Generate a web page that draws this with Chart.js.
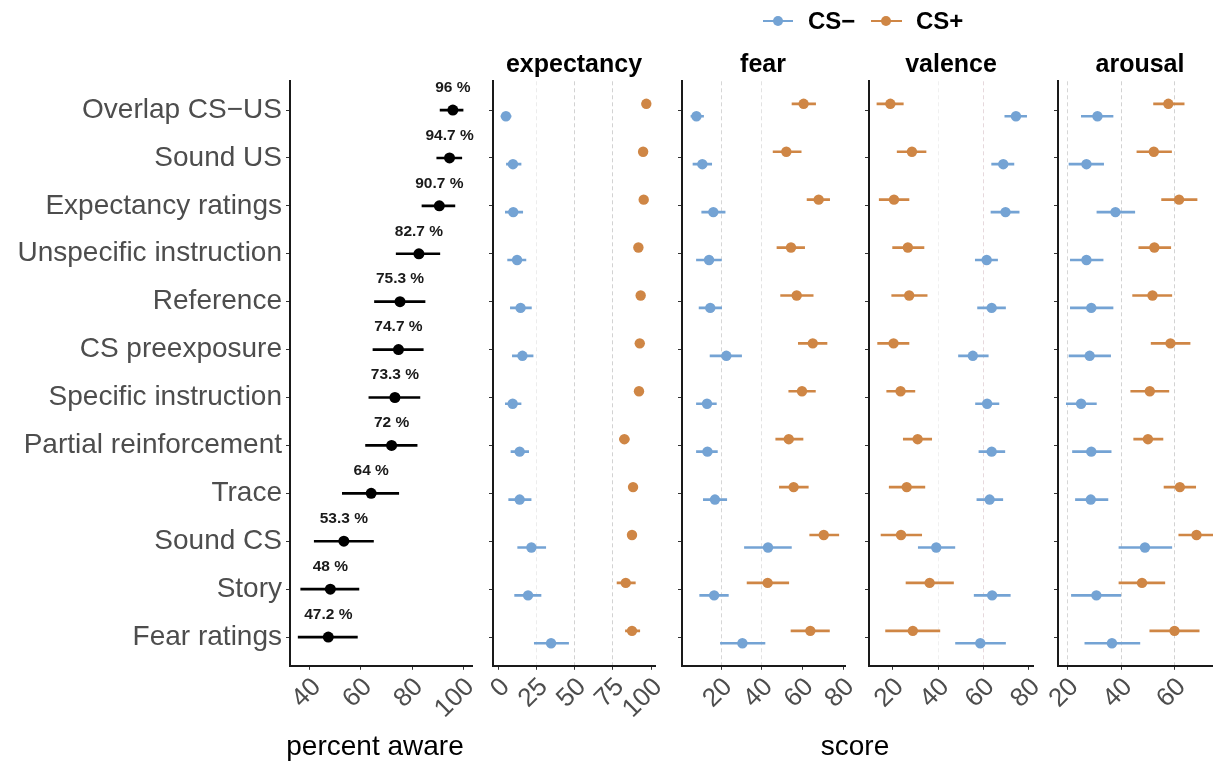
<!DOCTYPE html>
<html>
<head>
<meta charset="utf-8">
<script src="https://cdn.jsdelivr.net/npm/chart.js@4.4.1/dist/chart.umd.min.js"></script>
<style>
  html, body { margin: 0; padding: 0; background: #fff; overflow: hidden; }
  #wrap { position: relative; width: 1213px; height: 763px; overflow: hidden;
          font-family: "Liberation Sans", Arial, sans-serif; }
  canvas { position: absolute; top: 0; }
  .txt { position: absolute; white-space: nowrap; transform: translate(-50%, -50%); line-height: 1; color: #000; }
  .facet { font-size: 25px; font-weight: bold; }
  .axis-title { font-size: 28px; }
  .key-line { position: absolute; height: 2px; }
  .key-dot { position: absolute; width: 10px; height: 10px; border-radius: 50%; transform: translate(-50%, -50%); }
  .key-text { position: absolute; font-size: 24px; font-weight: bold; transform: translateY(-50%); line-height: 1; }
</style>
</head>
<body>
<div id="wrap">
  <canvas id="aware" width="502" height="763" style="left:0px"></canvas>
  <canvas id="expectancy"></canvas>
  <canvas id="fear"></canvas>
  <canvas id="valence"></canvas>
  <canvas id="arousal"></canvas>

  <div class="key-line" style="left:763px; top:20px; width:30px; background:#74a3d4"></div>
  <div class="key-dot" style="left:778px; top:21px; background:#74a3d4"></div>
  <div class="key-text" style="left:808px; top:21px">CS−</div>
  <div class="key-line" style="left:871px; top:20px; width:31px; background:#cf8645"></div>
  <div class="key-dot" style="left:886px; top:21px; background:#cf8645"></div>
  <div class="key-text" style="left:916px; top:21px">CS+</div>

  <div class="txt facet" style="left:574px; top:63px">expectancy</div>
  <div class="txt facet" style="left:763px; top:63px">fear</div>
  <div class="txt facet" style="left:951px; top:63px">valence</div>
  <div class="txt facet" style="left:1140px; top:63px">arousal</div>

  <div class="txt axis-title" style="left:375px; top:746px">percent aware</div>
  <div class="txt axis-title" style="left:855px; top:746px">score</div>
</div>

<script>
// ---- data ---------------------------------------------------------------
const categories = [
  'Overlap CS−US', 'Sound US', 'Expectancy ratings', 'Unspecific instruction',
  'Reference', 'CS preexposure', 'Specific instruction', 'Partial reinforcement',
  'Trace', 'Sound CS', 'Story', 'Fear ratings'
];

// share of aware participants per paradigm, with confidence limits
const awarePct  = [96, 94.7, 90.7, 82.7, 75.3, 74.7, 73.3, 72, 64, 53.3, 48, 47.2];
const awareLow  = [91.0, 89.7, 83.9, 73.8, 65.3, 64.7, 63.1, 61.8, 52.7, 41.7, 36.4, 35.4];
const awareHigh = [100, 99.5, 96.8, 90.9, 85.1, 84.4, 83.1, 82.0, 74.8, 64.9, 59.2, 58.6];
const awareTicks = [40, 60, 80, 100];

// expectancy ratings
const expMinus     = [4.8, 9.4, 9.6, 12.1, 14.4, 15.6, 9.2, 13.8, 13.8, 21.5, 19.3, 34.4];
const expMinusLow  = [1.6, 5.1, 4.4, 5.9, 7.7, 9.0, 4.4, 8.1, 6.6, 12.5, 10.5, 23.4];
const expMinusHigh = [8.1, 14.7, 15.8, 17.9, 21.5, 22.6, 14.7, 19.7, 21.3, 30.9, 27.8, 45.9];
const expPlus      = [96.9, 94.8, 95.2, 91.7, 93.2, 92.6, 92.1, 82.5, 88.2, 87.5, 83.4, 87.5];
const expPlusLow   = [94.9, 92.6, 93.0, 89.5, 91.0, 90.3, 89.8, 79.4, 85.6, 84.8, 77.7, 83.2];
const expPlusHigh  = [98.9, 97.0, 97.4, 93.9, 95.4, 94.9, 94.4, 85.6, 90.8, 90.2, 89.7, 92.6];
const expTicks = [0, 25, 50, 75, 100];

// fear ratings
const fearMinus     = [7.9, 10.8, 16.2, 14.1, 14.7, 22.6, 13.1, 13.3, 17.0, 43.1, 16.6, 30.5];
const fearMinusLow  = [5.2, 6.2, 10.5, 7.9, 9.2, 14.6, 7.9, 7.9, 11.3, 31.5, 9.5, 19.7];
const fearMinusHigh = [11.4, 15.4, 22.0, 20.2, 20.3, 30.1, 17.7, 18.2, 22.8, 54.6, 23.6, 41.6];
const fearPlus      = [60.6, 52.1, 68.0, 54.4, 57.2, 65.1, 59.8, 53.3, 55.7, 70.5, 42.9, 63.9];
const fearPlusLow   = [54.9, 45.6, 62.3, 47.5, 49.3, 58.0, 53.3, 46.9, 48.7, 63.6, 32.8, 54.4];
const fearPlusHigh  = [66.5, 59.4, 73.4, 61.1, 65.3, 72.1, 66.4, 60.3, 62.9, 77.9, 53.3, 73.3];
const fearTicks = [20, 40, 60, 80];

// valence ratings
const valMinus     = [74.3, 68.7, 69.7, 61.4, 63.6, 55.3, 61.6, 63.6, 62.7, 39.2, 63.8, 58.6];
const valMinusLow  = [69.4, 63.6, 63.3, 56.4, 57.4, 49.0, 56.5, 58.0, 57.1, 31.3, 55.9, 47.7];
const valMinusHigh = [79.0, 73.4, 75.7, 66.2, 69.7, 62.1, 66.8, 69.4, 68.5, 47.4, 71.8, 69.7];
const valPlus      = [19.0, 28.5, 20.6, 26.7, 27.3, 20.4, 23.5, 31.0, 26.2, 23.7, 36.3, 28.9];
const valPlusLow   = [13.1, 22.0, 14.1, 20.0, 19.6, 13.4, 17.4, 24.7, 18.5, 14.9, 25.9, 16.9];
const valPlusHigh  = [24.7, 34.7, 27.2, 33.8, 35.2, 27.2, 29.8, 37.2, 34.2, 32.8, 46.8, 40.8];
const valTicks = [20, 40, 60, 80];

// arousal ratings
const arMinus     = [31.2, 27.1, 37.9, 27.1, 28.9, 28.3, 25.1, 28.9, 28.7, 48.9, 30.8, 36.6];
const arMinusLow  = [25.2, 20.6, 31.0, 21.1, 21.1, 20.6, 19.6, 21.9, 23.0, 39.2, 21.5, 26.5];
const arMinusHigh = [37.0, 33.5, 45.1, 33.3, 37.0, 36.1, 30.8, 36.3, 35.1, 58.9, 39.9, 47.0];
const arPlus      = [57.6, 52.2, 61.6, 52.4, 51.7, 58.4, 50.7, 50.0, 61.9, 68.1, 47.8, 59.9];
const arPlusLow   = [52.1, 45.9, 55.1, 46.6, 44.3, 51.2, 43.6, 44.7, 56.0, 61.5, 39.2, 50.7];
const arPlusHigh  = [63.5, 58.8, 68.3, 58.5, 58.9, 65.7, 57.8, 55.6, 67.8, 74.7, 56.3, 69.1];
const arTicks = [20, 40, 60];

// ---- shared styling -----------------------------------------------------
const BLUE = '#74a3d4';
const ORANGE = '#cf8645';
const FONT = '"Liberation Sans", Arial, sans-serif';
const TEXT_GREY = '#4d4d4d';
const DODGE = 0.13;          // vertical offset between CS+ and CS− rows
const AREA_TOP = 81.3;       // top of every panel
const XAXIS_H = 97.2;        // room under every panel for the rotated ticks
const YAXIS_W = 40;          // room left of a facet for its tick marks

function yScale(showLabels) {
  return {
    type: 'linear', position: 'left', reverse: true,
    min: -0.6, max: categories.length - 0.4,
    offset: false,
    afterBuildTicks: s => { s.ticks = categories.map((_, i) => ({ value: i })); },
    afterFit: s => { if (!showLabels) s.width = YAXIS_W; },
    ticks: {
      autoSkip: false, padding: 4, color: TEXT_GREY,
      font: { family: FONT, size: 28 },
      callback: v => showLabels ? categories[v] : ''
    },
    grid: { offset: false, drawOnChartArea: false, drawTicks: true, tickLength: 4,
            tickColor: '#333', tickWidth: 1 },
    border: { display: true, color: '#1a1a1a', width: 2 }
  };
}

function xScale(min, max, tickValues, guides) {
  return {
    type: 'linear', position: 'bottom', min, max, beginAtZero: false,
    afterBuildTicks: s => { s.ticks = tickValues.map(v => ({ value: v })); },
    afterFit: s => { s.height = XAXIS_H; },
    ticks: {
      autoSkip: false, minRotation: 45, maxRotation: 45, padding: 2, labelOffset: 7,
      color: TEXT_GREY, font: { family: FONT, size: 26 },
      callback: v => String(v)
    },
    grid: {
      drawOnChartArea: true, drawTicks: true, tickLength: 4, tickColor: '#333', tickWidth: 1,
      lineWidth: 1,
      color: ctx => {
        const g = ctx.tick && guides.find(d => d.value === ctx.tick.value);
        return g ? g.color : 'rgba(0,0,0,0)';
      }
    },
    border: { display: true, color: '#1a1a1a', width: 2, dash: [4, 3] }
  };
}

function errorBars(low, high, offset, color) {
  return {
    type: 'bar', indexAxis: 'y', grouped: false, order: 2,
    data: low.map((lo, i) => ({ x: [lo, high[i]], y: i + offset })),
    backgroundColor: color, borderWidth: 0, barThickness: 2
  };
}

function points(values, offset, color, radius) {
  return {
    type: 'scatter', order: 1, showLine: false,
    data: values.map((v, i) => ({ x: v, y: i + offset })),
    backgroundColor: color, borderWidth: 0, pointRadius: radius, pointHoverRadius: radius
  };
}

// percentage text above each dot of the awareness panel
const percentLabels = {
  id: 'percentLabels',
  afterDatasetsDraw(chart) {
    const meta = chart.getDatasetMeta(1);
    const ctx = chart.ctx;
    ctx.save();
    ctx.font = 'bold 15.5px ' + FONT;
    ctx.fillStyle = '#1a1a1a';
    ctx.textAlign = 'center';
    ctx.textBaseline = 'middle';
    meta.data.forEach((pt, i) => ctx.fillText(awarePct[i] + ' %', pt.x, pt.y - 22.5));
    ctx.restore();
  }
};

const baseOptions = (padLeft, padRight, scales) => ({
  responsive: false, animation: false, events: [],
  layout: { padding: { left: padLeft, right: padRight, top: AREA_TOP, bottom: 0 } },
  plugins: { legend: { display: false }, tooltip: { enabled: false }, title: { display: false } },
  scales
});

// ---- awareness panel ----------------------------------------------------
new Chart(document.getElementById('aware'), {
  type: 'scatter',
  data: {
    datasets: [
      errorBars(awareLow, awareHigh, 0, '#000'),
      points(awarePct, 0, '#000', 5.5)
    ]
  },
  options: (() => {
    const o = baseOptions(0, 30, {
      x: xScale(32.2, 103.5, awareTicks, []),
      y: Object.assign(yScale(true), { afterFit: s => { s.width = 290; } })
    });
    o.scales.x.grid.color = 'rgba(0,0,0,0)';
    return o;
  })(),
  plugins: [percentLabels]
});

// ---- rating facets ------------------------------------------------------
const facets = [
  { id: 'expectancy', left: 492.7, right: 655.0, min: -3.7, max: 102.8, ticks: expTicks,
    minus: [expMinus, expMinusLow, expMinusHigh], plus: [expPlus, expPlusLow, expPlusHigh],
    guides: [{ value: 25, color: '#ececec' }, { value: 50, color: '#d2d2d2' }, { value: 75, color: '#d2d2d2' }] },
  { id: 'fear', left: 681.7, right: 845.0, min: 0.8, max: 81.1, ticks: fearTicks,
    minus: [fearMinus, fearMinusLow, fearMinusHigh], plus: [fearPlus, fearPlusLow, fearPlusHigh],
    guides: [{ value: 20, color: '#d6d6d6' }, { value: 40, color: '#e2e2e2' }] },
  { id: 'valence', left: 869.0, right: 1033.0, min: 9.6, max: 81.8, ticks: valTicks,
    minus: [valMinus, valMinusLow, valMinusHigh], plus: [valPlus, valPlusLow, valPlusHigh],
    guides: [{ value: 40, color: '#f0f0f0' }, { value: 60, color: '#e6d8dc' }] },
  { id: 'arousal', left: 1058.3, right: 1221.5, min: 16.5, max: 77.3, ticks: arTicks,
    minus: [arMinus, arMinusLow, arMinusHigh], plus: [arPlus, arPlusLow, arPlusHigh],
    guides: [{ value: 20, color: '#d6d6d6' }, { value: 40, color: '#d2d2d2' }, { value: 60, color: '#d2d2d2' }] }
];

facets.forEach(f => {
  const cv = document.getElementById(f.id);
  const padRight = 30;
  cv.width = Math.round(YAXIS_W + (f.right - f.left) + padRight);
  cv.height = 763;
  cv.style.left = (f.left - YAXIS_W) + 'px';
  new Chart(cv, {
    type: 'scatter',
    data: {
      datasets: [
        errorBars(f.minus[1], f.minus[2], DODGE, BLUE),
        errorBars(f.plus[1], f.plus[2], -DODGE, ORANGE),
        points(f.minus[0], DODGE, BLUE, 5.2),
        points(f.plus[0], -DODGE, ORANGE, 5.2)
      ]
    },
    options: baseOptions(0, cv.width - YAXIS_W - (f.right - f.left), {
      x: xScale(f.min, f.max, f.ticks, f.guides),
      y: yScale(false)
    })
  });
});
</script>
</body>
</html>
